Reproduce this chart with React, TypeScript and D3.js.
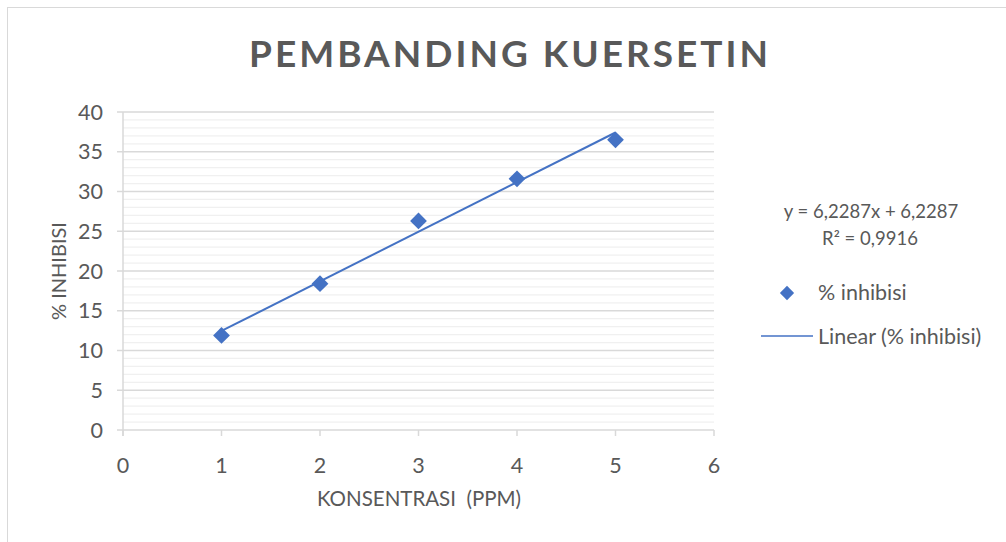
import { useRef, useEffect } from 'react';
import * as d3 from 'd3';

const konsentrasi = [1, 2, 3, 4, 5];
const inhibisi = [11.9, 18.4, 26.3, 31.6, 36.5];
const xTicks = [0, 1, 2, 3, 4, 5, 6];
const yTicks = [0, 5, 10, 15, 20, 25, 30, 35, 40];
const equationText = 'y = 6,2287x + 6,2287';
const r2Text = 'R² = 0,9916';

const W = 1006;
const H = 542;
const FONT = 'Lato, Calibri, sans-serif';
const BLUE = '#4472C4';
const TEXT = '#595959';

export default function App() {
  const svgRef = useRef(null);

  function renderChart() {
    const svg = d3.select(svgRef.current);
    svg.selectAll('*').remove();
    svg.attr('viewBox', [0, 0, W, H]).style('font-family', FONT);

    svg
      .append('rect')
      .attr('x', 7.5)
      .attr('y', 7.5)
      .attr('width', W)
      .attr('height', H)
      .attr('fill', '#fff')
      .attr('stroke', '#d9d9d9');

    const x = d3.scaleLinear().domain([0, 6]).range([123, 714]);
    const y = d3.scaleLinear().domain([0, 40]).range([430, 112]);

    // minor gridlines
    svg
      .append('g')
      .selectAll('line')
      .data(d3.range(0, 41, 1).filter(v => v % 5 !== 0))
      .join('line')
      .attr('x1', x(0))
      .attr('x2', x(6))
      .attr('y1', d => y(d))
      .attr('y2', d => y(d))
      .attr('stroke', '#f0f0f0')
      .attr('stroke-width', 1.2);

    // major gridlines (with small outside ticks)
    svg
      .append('g')
      .selectAll('line')
      .data(yTicks.filter(v => v > 0))
      .join('line')
      .attr('x1', x(0) - 6)
      .attr('x2', x(6))
      .attr('y1', d => y(d))
      .attr('y2', d => y(d))
      .attr('stroke', '#d9d9d9')
      .attr('stroke-width', 1.5);

    // axes lines
    svg
      .append('line')
      .attr('x1', x(0))
      .attr('x2', x(0))
      .attr('y1', y(40))
      .attr('y2', y(0) + 6)
      .attr('stroke', '#d9d9d9')
      .attr('stroke-width', 1.5);
    svg
      .append('line')
      .attr('x1', x(0) - 6)
      .attr('x2', x(6))
      .attr('y1', y(0))
      .attr('y2', y(0))
      .attr('stroke', '#d9d9d9')
      .attr('stroke-width', 1.5);
    svg
      .append('g')
      .selectAll('line')
      .data(xTicks)
      .join('line')
      .attr('x1', d => x(d))
      .attr('x2', d => x(d))
      .attr('y1', y(0))
      .attr('y2', y(0) + 6)
      .attr('stroke', '#d9d9d9')
      .attr('stroke-width', 1.5);

    // tick labels
    svg
      .append('g')
      .selectAll('text')
      .data(yTicks)
      .join('text')
      .attr('x', 103)
      .attr('y', d => y(d) + 7.5)
      .attr('text-anchor', 'end')
      .attr('font-size', 21.5)
      .attr('fill', TEXT)
      .text(d => d);
    svg
      .append('g')
      .selectAll('text')
      .data(xTicks)
      .join('text')
      .attr('x', d => x(d))
      .attr('y', 473)
      .attr('text-anchor', 'middle')
      .attr('font-size', 21.5)
      .attr('fill', TEXT)
      .text(d => d);

    // axis titles
    svg
      .append('text')
      .attr('transform', 'translate(66,271) rotate(-90)')
      .attr('text-anchor', 'middle')
      .attr('font-size', 20)
      .attr('fill', TEXT)
      .text('% INHIBISI');
    svg
      .append('text')
      .attr('x', 419)
      .attr('y', 506)
      .attr('text-anchor', 'middle')
      .attr('font-size', 20.5)
      .attr('fill', TEXT)
      .style('white-space', 'pre')
      .text('KONSENTRASI  (PPM)');

    // title
    svg
      .append('text')
      .attr('x', 510)
      .attr('y', 67)
      .attr('text-anchor', 'middle')
      .attr('font-size', 37)
      .attr('font-weight', 'bold')
      .attr('letter-spacing', 3)
      .attr('fill', TEXT)
      .text('PEMBANDING KUERSETIN');

    // linear trendline by least squares
    const mx = d3.mean(konsentrasi);
    const my = d3.mean(inhibisi);
    const slope =
      d3.sum(konsentrasi, (v, i) => (v - mx) * (inhibisi[i] - my)) /
      d3.sum(konsentrasi, v => (v - mx) ** 2);
    const intercept = my - slope * mx;
    const xs = d3.extent(konsentrasi);
    const line = d3
      .line()
      .x(d => x(d))
      .y(d => y(slope * d + intercept));
    svg
      .append('path')
      .attr('d', line(xs))
      .attr('fill', 'none')
      .attr('stroke', BLUE)
      .attr('stroke-width', 2);

    // points
    const diamond = d3.symbol().type(d3.symbolDiamond2).size(180);
    svg
      .append('g')
      .selectAll('path')
      .data(konsentrasi)
      .join('path')
      .attr('transform', (d, i) => `translate(${x(d)},${y(inhibisi[i])})`)
      .attr('d', diamond())
      .attr('fill', BLUE);

    // equation
    svg
      .append('text')
      .attr('x', 871)
      .attr('y', 218)
      .attr('text-anchor', 'middle')
      .attr('font-size', 18.5)
      .attr('fill', TEXT)
      .text(equationText);
    svg
      .append('text')
      .attr('x', 870)
      .attr('y', 245)
      .attr('text-anchor', 'middle')
      .attr('font-size', 18.5)
      .attr('fill', TEXT)
      .text(r2Text);

    // legend
    svg
      .append('path')
      .attr('transform', 'translate(787,293)')
      .attr('d', d3.symbol().type(d3.symbolDiamond2).size(130)())
      .attr('fill', BLUE);
    svg
      .append('text')
      .attr('x', 818)
      .attr('y', 300)
      .attr('font-size', 21.5)
      .attr('fill', TEXT)
      .text('% inhibisi');
    svg
      .append('line')
      .attr('x1', 761)
      .attr('x2', 813)
      .attr('y1', 336)
      .attr('y2', 336)
      .attr('stroke', BLUE)
      .attr('stroke-width', 1.5);
    svg
      .append('text')
      .attr('x', 818)
      .attr('y', 344)
      .attr('font-size', 21.5)
      .attr('fill', TEXT)
      .text('Linear (% inhibisi)');
  }

  useEffect(() => {
    renderChart();
    // eslint-disable-next-line react-hooks/exhaustive-deps
  }, []);

  return (
    <div style={{ position: 'absolute', left: 0, top: 0 }}>
      <svg ref={svgRef} width={W} height={H} style={{ display: 'block' }} />
    </div>
  );
}
